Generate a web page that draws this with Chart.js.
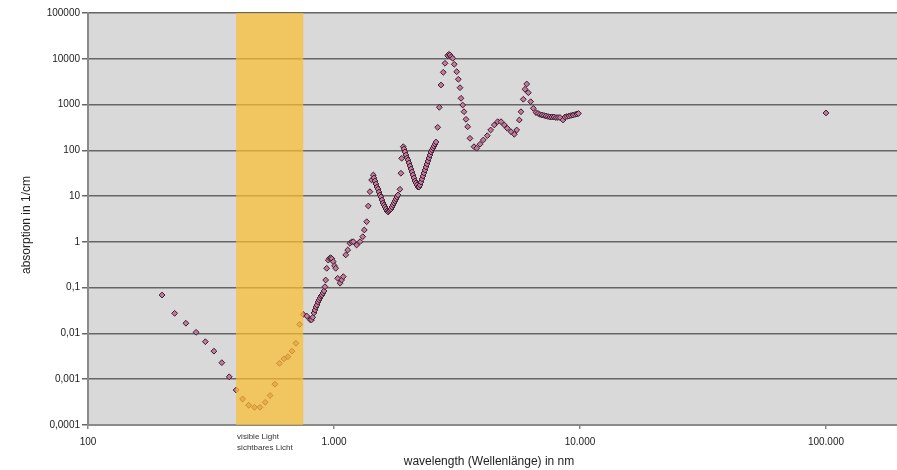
<!DOCTYPE html>
<html><head><meta charset="utf-8">
<script src="https://cdn.jsdelivr.net/npm/chart.js@4.4.1/dist/chart.umd.min.js"></script>
<style>html,body{margin:0;padding:0;background:#fff}canvas{display:block}</style>
</head><body>
<canvas id="c" width="897" height="470"></canvas>
<script>
// wavelength in nm
const wavelengths = [
 200,225,250,275,300,325,350,375,400,425,450,475,500,525,550,575,600,625,650,675,700,725,750,
 775,800,810,820,829,837,845,853,861,869,877,886,894,902,911,
 919,925,934,948,960,970,980,993,1005,1016,1035,1058,1074,1091,1116,1137,1161,1180,1198,1236,1276,1309,1328,1358,1379,1400,1422,1445,
 1454,1468,1481,1495,1510,1524,1538,1552,1567,1582,1597,1612,1627,1642,1658,1673,1689,1705,1721,1737,1754,1770,1787,1803,1820,1854,1871,1884,1913,
 1926,1943,1962,1980,1999,2018,2037,2056,2075,2095,2114,2134,2154,2175,2195,2216,2237,2258,2279,2301,2322,2344,2366,2388,2410,2433,2456,2479,2503,2526,2550,2574,2598,
 2640,2680,2723,2782,2827,2899,2930,2961,3000,3037,3083,3154,3202,3253,3284,3336,3377,3440,3495,3571,3708,3802,3923,4045,4199,4334,4484,4628,4775,4924,5064,5243,5408,5530,5667,5755,5883,5977,6073,6167,6304,6460,
 6624,6750,6878,7008,7141,7276,7413,7553,7696,7841,7989,8140,8293,8530,8690,8854,9021,9191,9365,9541,9721,9860,
 100000
];
// absorption in 1/cm
const absorption = [
 0.069,0.0275,0.0167,0.0106,0.0066,0.0041,0.0023,0.00113,0.00058,0.00037,0.00027,0.000244,0.000244,0.000313,0.00044,0.00078,0.00223,0.00277,0.0031,0.0041,0.0061,0.0158,0.026,
 0.024,0.0200,0.0197,0.0225,0.028,0.0325,0.0378,0.0418,0.0487,0.0538,0.0595,0.0658,0.0692,0.0765,0.0847,
 0.105,0.147,0.265,0.40,0.44,0.45,0.43,0.37,0.30,0.265,0.16,0.125,0.147,0.174,0.52,0.665,0.93,1.0,1.01,0.855,1.01,1.30,1.82,2.76,6.08,12.5,22.5,28.9,
 24.9,21.4,18.4,15.8,14.3,12.3,10.6,9.57,8.22,7.07,6.40,5.78,5.23,4.73,4.50,4.73,4.98,5.23,5.78,6.40,7.07,7.82,8.65,9.57,10.6,14.1,31.6,67,120,
 107,92,79,68,61.5,52.9,45.5,39.1,33.6,28.9,24.9,21.4,19.4,17.5,15.8,15.8,17.5,20.3,23.7,27.5,32,37.2,43.3,50.3,58.5,68,79,92,102,112,124,137,152,
 318,871,2675,5066,7966,11670,12500,12100,11000,10240,7580,5220,3565,2335,1370,977,698,476,328,183,120,111,136,168,209,278,358,423,423,358,303,255,224,278,460,698,1303,2155,2813,1816,1155,828,
 671,638,607,591,577,562,548,535,535,535,521,521,521,460,535,548,562,577,591,607,622,638,
 655
];
const xTicks = [100, 1000, 10000, 100000];
const xTickLabels = ['100', '1.000', '10.000', '100.000'];
const yTicks = [0.0001, 0.001, 0.01, 0.1, 1, 10, 100, 1000, 10000, 100000];
const yTickLabels = ['0,0001', '0,001', '0,01', '0,1', '1', '10', '100', '1000', '10000', '100000'];
const visibleBand = [400, 750];
const bandLabels = ['visible Light', 'sichtbares Licht'];
const xTitle = 'wavelength (Wellenlänge) in nm';
const yTitle = 'absorption in 1/cm';

const FONT = '"Liberation Sans", Arial, sans-serif';
const points = wavelengths.map((w, i) => ({x: w, y: absorption[i]}));

const decor = {
  id: 'decor',
  beforeDraw(chart) {
    const {ctx, chartArea: a} = chart;
    ctx.save();
    ctx.fillStyle = '#d9d9d9';
    ctx.fillRect(a.left, a.top, a.right - a.left, a.bottom - a.top);
    ctx.restore();
  },
  afterDatasetsDraw(chart) {
    const {ctx, chartArea: a, scales: {x}} = chart;
    const x0 = x.getPixelForValue(visibleBand[0]);
    const x1 = x.getPixelForValue(visibleBand[1]);
    ctx.save();
    ctx.fillStyle = 'rgba(250,190,50,0.72)';
    ctx.fillRect(x0, a.top, x1 - x0, a.bottom - a.top);
    ctx.restore();
  },
  afterDraw(chart) {
    const {ctx, chartArea: a, scales: {x}} = chart;
    ctx.save();
    ctx.fillStyle = '#333';
    ctx.font = '8px ' + FONT;
    ctx.textAlign = 'left';
    ctx.textBaseline = 'middle';
    const bx = x.getPixelForValue(visibleBand[0]) + 1;
    ctx.fillText(bandLabels[0], bx, 437);
    ctx.fillText(bandLabels[1], bx, 448);
    ctx.fillStyle = '#222';
    ctx.font = '12px ' + FONT;
    ctx.textAlign = 'center';
    ctx.fillText(xTitle, 489, 462);
    ctx.translate(27, 225);
    ctx.rotate(-Math.PI / 2);
    ctx.fillText(yTitle, 0, 0);
    ctx.restore();
  }
};

new Chart(document.getElementById('c'), {
  type: 'scatter',
  data: {
    datasets: [{
      data: points,
      pointStyle: 'rectRot',
      pointRadius: 2.9,
      pointHoverRadius: 2.9,
      pointBackgroundColor: '#c47c9e',
      pointBorderColor: '#3c1c2c',
      pointBorderWidth: 1,
      showLine: false
    }]
  },
  options: {
    responsive: false,
    animation: false,
    events: [],
    layout: {autoPadding: false, padding: {top: 13, right: 0, left: 0, bottom: 0}},
    plugins: {legend: {display: false}, tooltip: {enabled: false}},
    scales: {
      x: {
        type: 'logarithmic',
        min: 100,
        max: 194400,
        afterBuildTicks: s => { s.ticks = xTicks.map(v => ({value: v})); },
        afterFit: s => { s.height = 45; },
        ticks: {
          autoSkip: false, maxRotation: 0, padding: 7, color: '#222',
          font: {family: FONT, size: 10},
          callback: v => xTickLabels[xTicks.indexOf(v)] ?? ''
        },
        grid: {drawOnChartArea: false, drawTicks: true, tickLength: 4, color: '#8a8a8a', lineWidth: 1.5},
        border: {display: true, color: '#8a8a8a', width: 2}
      },
      y: {
        type: 'logarithmic',
        min: 0.0001,
        max: 100000,
        afterBuildTicks: s => { s.ticks = yTicks.map(v => ({value: v})); },
        afterFit: s => { s.width = 88; },
        ticks: {
          autoSkip: false, padding: 2, color: '#222',
          font: {family: FONT, size: 10},
          callback: v => { const i = yTicks.findIndex(t => Math.abs(Math.log10(t) - Math.log10(v)) < 1e-6); return i >= 0 ? yTickLabels[i] : ''; }
        },
        grid: {drawOnChartArea: true, drawTicks: true, tickLength: 6, color: '#666666', lineWidth: 1.5},
        border: {display: true, color: '#8a8a8a', width: 2}
      }
    }
  },
  plugins: [decor]
});
</script>
</body></html>
